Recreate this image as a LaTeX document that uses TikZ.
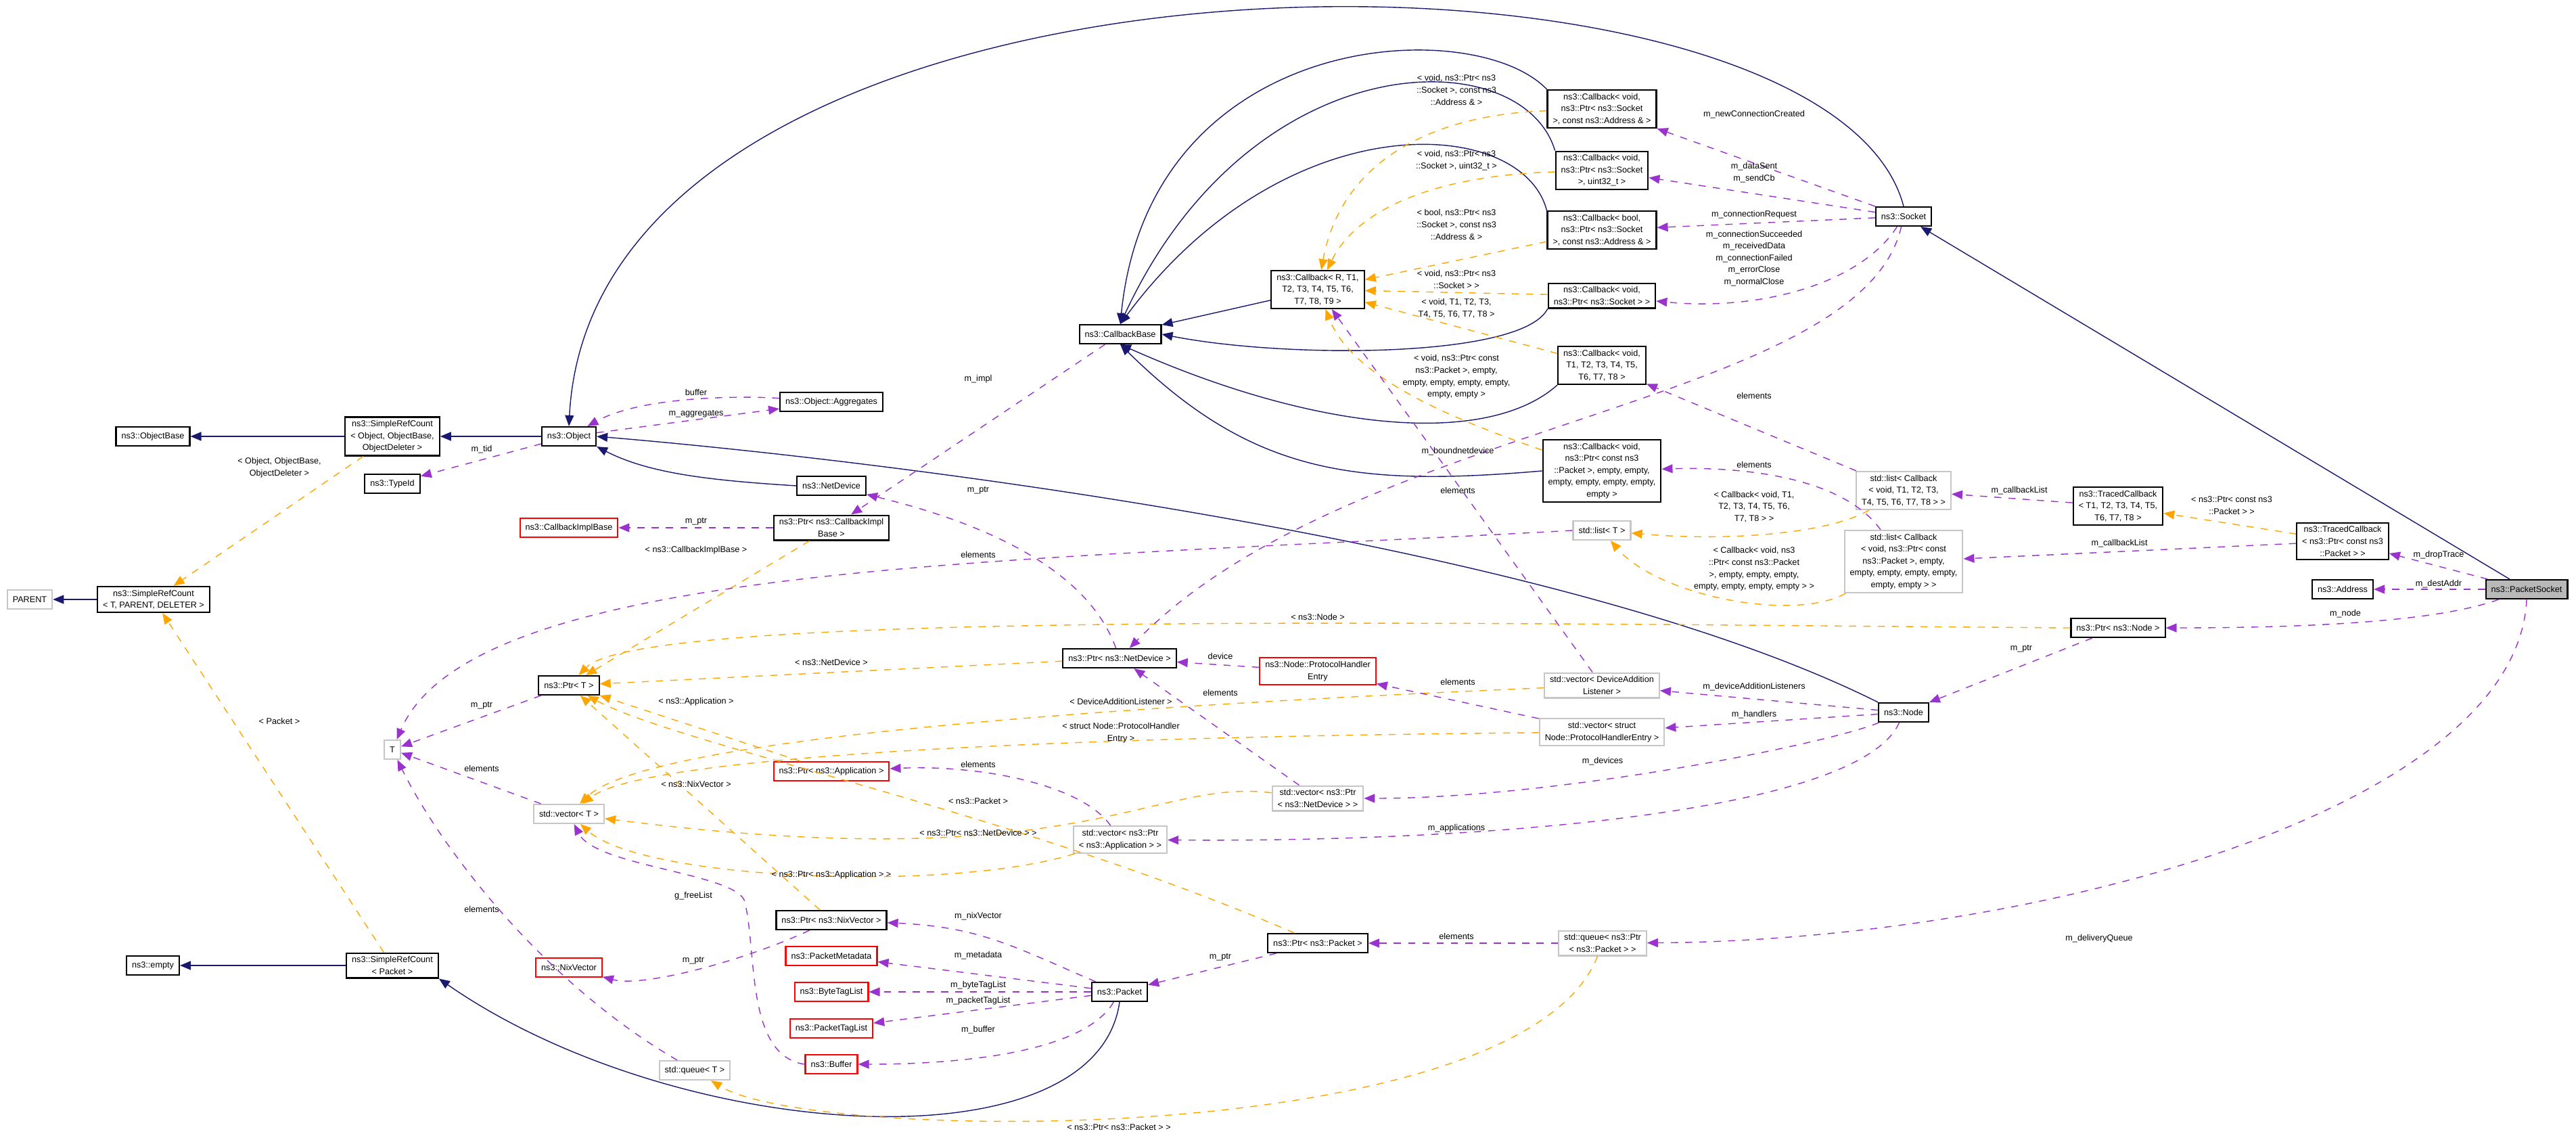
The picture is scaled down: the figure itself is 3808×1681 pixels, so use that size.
\documentclass[tikz,border=0pt]{standalone}
\usepackage{fontspec}
\setmainfont{Liberation Sans}
\usetikzlibrary{arrows.meta}
\definecolor{inhblue}{RGB}{25,25,112}
\definecolor{tplorange}{RGB}{255,165,0}
\definecolor{usepurple}{RGB}{154,50,205}
\begin{document}
\begin{tikzpicture}[x=0.01cm, y=-0.01cm,
cls/.style={draw=black, fill=white, line width=.6pt, font=\fontsize{3.6}{5}\selectfont, inner xsep=.8mm, inner ysep=.5mm, minimum height=.28cm, align=center},
redcls/.style={cls, draw=red},
extcls/.style={cls, draw=gray!45},
curcls/.style={cls, fill=gray!55},
lbl/.style={font=\fontsize{3.6}{5}\selectfont, align=center, inner sep=0},
inh/.style={draw=inhblue, -{Triangle[length=1.6mm,width=1.3mm]}},
tpl/.style={draw=tplorange, dashed, -{Triangle[length=1.6mm,width=1.3mm]}},
use/.style={draw=usepurple, dashed, -{Triangle[length=1.6mm,width=1.3mm]}}]
\useasboundingbox (0,0) rectangle (3808,1681);
% classes
\node[curcls] (psock) at (3735,871) {ns3::PacketSocket};
\node[cls] (addr) at (3463,871) {ns3::Address};
\node[cls] (tcpkt) at (3463,800) {ns3::TracedCallback\\< ns3::Ptr< const ns3\\::Packet > >};
\node[cls] (tcgen) at (3131,748) {ns3::TracedCallback\\< T1, T2, T3, T4, T5,\\T6, T7, T8 >};
\node[extcls] (lstcb) at (2814,725) {std::list< Callback\\< void, T1, T2, T3,\\T4, T5, T6, T7, T8 > >};
\node[extcls] (lstpkt) at (2814,830) {std::list< Callback\\< void, ns3::Ptr< const\\ns3::Packet >, empty,\\empty, empty, empty, empty,\\empty, empty > >};
\node[extcls] (lstT) at (2368,784) {std::list< T >};
\node[cls] (ptrnode) at (3131,928) {ns3::Ptr< ns3::Node >};
\node[cls] (node) at (2814,1053) {ns3::Node};
\node[cls] (socket) at (2814,320) {ns3::Socket};
\node[extcls] (vecdal) at (2368,1013) {std::vector< DeviceAddition\\Listener >};
\node[extcls] (vecphe) at (2368,1082) {std::vector< struct\\Node::ProtocolHandlerEntry >};
\node[redcls] (phe) at (1948,992) {ns3::Node::ProtocolHandler\\Entry};
\node[cls] (ptrdev) at (1655,973) {ns3::Ptr< ns3::NetDevice >};
\node[extcls] (vecdev) at (1948,1180) {std::vector< ns3::Ptr\\< ns3::NetDevice > >};
\node[extcls] (vecapp) at (1656,1241) {std::vector< ns3::Ptr\\< ns3::Application > >};
\node[redcls] (ptrapp) at (1229,1140) {ns3::Ptr< ns3::Application >};
\node[cls] (ptrT) at (841,1013) {ns3::Ptr< T >};
\node[extcls] (T) at (580,1108) {T};
\node[extcls] (vecT) at (841,1203) {std::vector< T >};
\node[cls] (ptrnix) at (1229,1360) {ns3::Ptr< ns3::NixVector >};
\node[redcls] (nix) at (841,1430) {ns3::NixVector};
\node[redcls] (meta) at (1229,1413) {ns3::PacketMetadata};
\node[redcls] (btl) at (1229,1466) {ns3::ByteTagList};
\node[redcls] (ptl) at (1229,1520) {ns3::PacketTagList};
\node[redcls] (buf) at (1229,1573) {ns3::Buffer};
\node[cls] (packet) at (1655,1466) {ns3::Packet};
\node[cls] (ptrpkt) at (1948,1394) {ns3::Ptr< ns3::Packet >};
\node[extcls] (quepkt) at (2369,1394) {std::queue< ns3::Ptr\\< ns3::Packet > >};
\node[extcls] (queT) at (1027,1582) {std::queue< T >};
\node[cls] (srcpkt) at (580,1427) {ns3::SimpleRefCount\\< Packet >};
\node[cls] (empty) at (226,1427) {ns3::empty};
\node[extcls] (parent) at (44,886) {PARENT};
\node[cls] (srcgen) at (227,886) {ns3::SimpleRefCount\\< T, PARENT, DELETER >};
\node[cls] (objbase) at (226,645) {ns3::ObjectBase};
\node[cls] (srcobj) at (580,645) {ns3::SimpleRefCount\\< Object, ObjectBase,\\ObjectDeleter >};
\node[cls] (typeid) at (580,715) {ns3::TypeId};
\node[cls] (object) at (841,645) {ns3::Object};
\node[cls] (aggr) at (1229,594) {ns3::Object::Aggregates};
\node[cls] (netdev) at (1229,718) {ns3::NetDevice};
\node[cls] (ptrcbi) at (1229,780) {ns3::Ptr< ns3::CallbackImpl\\Base >};
\node[redcls] (cbi) at (841,780) {ns3::CallbackImplBase};
\node[cls] (cbbase) at (1656,494) {ns3::CallbackBase};
\node[cls] (cbgen) at (1948,428) {ns3::Callback< R, T1,\\T2, T3, T4, T5, T6,\\T7, T8, T9 >};
\node[cls] (cbaddr) at (2368,161) {ns3::Callback< void,\\ns3::Ptr< ns3::Socket\\>, const ns3::Address \& >};
\node[cls] (cbuint) at (2368,252) {ns3::Callback< void,\\ns3::Ptr< ns3::Socket\\>, uint32\_t >};
\node[cls] (cbbool) at (2368,340) {ns3::Callback< bool,\\ns3::Ptr< ns3::Socket\\>, const ns3::Address \& >};
\node[cls] (cbsock) at (2368,437) {ns3::Callback< void,\\ns3::Ptr< ns3::Socket > >};
\node[cls] (cbT) at (2368,540) {ns3::Callback< void,\\T1, T2, T3, T4, T5,\\T6, T7, T8 >};
\node[cls] (cbpkt) at (2368,696) {ns3::Callback< void,\\ns3::Ptr< const ns3\\::Packet >, empty, empty,\\empty, empty, empty, empty,\\empty >};
% inheritance
\draw[inh] (psock) -- (socket);
\draw[inh] (socket.north) .. controls (2700,-130) and (880,-130) .. (object.north);
\draw[inh] (node.north west) .. controls (2300,800) and (1300,680) .. (object.east);
\draw[inh] (netdev.west) .. controls (1050,710) and (960,700) .. (object.south east);
\draw[inh] (object) -- (srcobj);
\draw[inh] (srcobj) -- (objbase);
\draw[inh] (srcgen) -- (parent);
\draw[inh] (srcpkt) -- (empty);
\draw[inh] (packet.south) .. controls (1620,1730) and (1000,1690) .. (srcpkt.south east);
\draw[inh] (cbgen) -- (cbbase);
\draw[inh] (cbaddr.north west) .. controls (2180,20) and (1700,40) .. (cbbase.north);
\draw[inh] (cbuint.north west) .. controls (2250,60) and (1850,60) .. (cbbase.north);
\draw[inh] (cbbool.north west) .. controls (2250,170) and (1900,150) .. (cbbase.north);
\draw[inh] (cbsock.south west) .. controls (2250,530) and (1900,530) .. (cbbase.east);
\draw[inh] (cbT.south west) .. controls (2200,660) and (1950,640) .. (cbbase.south);
\draw[inh] (cbpkt.west) .. controls (2000,720) and (1850,700) .. (cbbase.south);
% templates
\draw[tpl] (srcobj) -- (srcgen);
\draw[tpl] (srcpkt) -- (srcgen);
\draw[tpl] (cbaddr) .. controls (2100,170) and (1980,250) .. (cbgen);
\draw[tpl] (cbuint) .. controls (2100,260) and (2000,320) .. (cbgen);
\draw[tpl] (cbbool) -- (cbgen);
\draw[tpl] (cbsock) -- (cbgen);
\draw[tpl] (cbT) -- (cbgen);
\draw[tpl] (cbpkt) .. controls (2150,620) and (2000,560) .. (cbgen);
\draw[tpl] (ptrcbi) -- (ptrT);
\draw[tpl] (ptrdev) -- (ptrT);
\draw[tpl] (ptrnode.west) .. controls (2200,922) and (950,900) .. (ptrT);
\draw[tpl] (ptrapp) -- (ptrT);
\draw[tpl] (ptrnix) -- (ptrT);
\draw[tpl] (ptrpkt) .. controls (1500,1200) and (1000,1100) .. (ptrT);
\draw[tpl] (vecdal) .. controls (1500,1050) and (950,1100) .. (vecT);
\draw[tpl] (vecphe) .. controls (1500,1090) and (950,1120) .. (vecT);
\draw[tpl] (vecdev) .. controls (1700,1150) and (1600,1300) .. (vecT);
\draw[tpl] (vecapp) .. controls (1400,1320) and (950,1300) .. (vecT);
\draw[tpl] (lstcb) .. controls (2700,790) and (2550,800) .. (lstT);
\draw[tpl] (lstpkt) .. controls (2650,920) and (2450,880) .. (lstT);
\draw[tpl] (tcpkt) -- (tcgen);
\draw[tpl] (quepkt) .. controls (2250,1700) and (1200,1690) .. (queT);
% usage
\draw[use] (aggr) .. controls (1100,585) and (950,585) .. (object);
\draw[use] (object) -- (aggr);
\draw[use] (object) -- (typeid);
\draw[use] (ptrT) -- (T);
\draw[use] (vecT) -- (T);
\draw[use] (queT) .. controls (800,1450) and (650,1250) .. (T);
\draw[use] (cbbase) -- (ptrcbi);
\draw[use] (ptrcbi) -- (cbi);
\draw[use] (ptrdev) .. controls (1600,820) and (1400,760) .. (netdev);
\draw[use] (lstT.west) .. controls (1500,830) and (700,830) .. (T);
\draw[use] (socket) .. controls (2750,600) and (2000,620) .. (ptrdev);
\draw[use] (socket) -- (cbaddr);
\draw[use] (socket) -- (cbuint);
\draw[use] (socket) -- (cbbool);
\draw[use] (socket) .. controls (2750,420) and (2600,460) .. (cbsock);
\draw[use] (lstcb) -- (cbT);
\draw[use] (lstpkt) .. controls (2720,700) and (2560,690) .. (cbpkt);
\draw[use] (vecdal) -- (cbgen);
\draw[use] (phe) -- (ptrdev);
\draw[use] (vecphe) -- (phe);
\draw[use] (vecdev) -- (ptrdev);
\draw[use] (vecapp) .. controls (1600,1160) and (1450,1130) .. (ptrapp);
\draw[use] (tcgen) -- (lstcb);
\draw[use] (tcpkt) -- (lstpkt);
\draw[use] (psock) -- (tcpkt);
\draw[use] (psock) -- (addr);
\draw[use] (psock) .. controls (3600,920) and (3400,928) .. (ptrnode);
\draw[use] (psock.south) .. controls (3720,1200) and (3000,1390) .. (quepkt);
\draw[use] (ptrnode) -- (node);
\draw[use] (node) -- (vecdal);
\draw[use] (node) -- (vecphe);
\draw[use] (node) .. controls (2700,1100) and (2300,1180) .. (vecdev);
\draw[use] (node) .. controls (2750,1200) and (2200,1245) .. (vecapp);
\draw[use] (packet) .. controls (1500,1400) and (1450,1370) .. (ptrnix);
\draw[use] (packet) -- (meta);
\draw[use] (packet) -- (btl);
\draw[use] (packet) -- (ptl);
\draw[use] (packet) .. controls (1600,1560) and (1400,1573) .. (buf);
\draw[use] (ptrnix) .. controls (1100,1420) and (950,1460) .. (nix);
\draw[use] (buf.west) .. controls (1100,1560) and (1120,1400) .. (1100,1330) .. controls (1080,1290) and (880,1280) .. (vecT);
\draw[use] (ptrpkt) -- (packet);
\draw[use] (quepkt) -- (ptrpkt);
% labels
\node[lbl] (lObj) at (413,691) {< Object, ObjectBase,\\ObjectDeleter >};
\node[lbl] (lPkt) at (413,1066) {< Packet >};
\node[lbl] (lTid) at (712,664) {m\_tid};
\node[lbl] (lPtrT) at (712,1043) {m\_ptr};
\node[lbl] (lVecEl) at (712,1136) {elements};
\node[lbl] (lQueEl) at (712,1344) {elements};
\node[lbl] (lBuffer) at (1029,580) {buffer};
\node[lbl] (lAggr) at (1029,612) {m\_aggregates};
\node[lbl] (lImpl) at (1446,560) {m\_impl};
\node[lbl] (lDevPtr) at (1446,725) {m\_ptr};
\node[lbl] (lCbiPtr) at (1029,771) {m\_ptr};
\node[lbl] (lCbi) at (1029,813) {< ns3::CallbackImplBase >};
\node[lbl] (lLstEl) at (1446,820) {elements};
\node[lbl] (lNode) at (1948,912) {< ns3::Node >};
\node[lbl] (lDev) at (1229,979) {< ns3::NetDevice >};
\node[lbl] (lDevice) at (1804,970) {device};
\node[lbl] (lVecDevEl) at (1804,1024) {elements};
\node[lbl] (lApp) at (1029,1037) {< ns3::Application >};
\node[lbl] (lDal) at (1657,1037) {< DeviceAdditionListener >};
\node[lbl] (lPhe) at (1657,1083) {< struct Node::ProtocolHandler\\Entry >};
\node[lbl] (lVecAppEl) at (1446,1130) {elements};
\node[lbl] (lNix) at (1029,1159) {< ns3::NixVector >};
\node[lbl] (lPacket) at (1446,1184) {< ns3::Packet >};
\node[lbl] (lPtrDev) at (1446,1231) {< ns3::Ptr< ns3::NetDevice > >};
\node[lbl] (lPtrApp) at (1229,1293) {< ns3::Ptr< ns3::Application > >};
\node[lbl] (lFree) at (1025,1324) {g\_freeList};
\node[lbl] (lNixPtr) at (1025,1420) {m\_ptr};
\node[lbl] (lNixVec) at (1446,1354) {m\_nixVector};
\node[lbl] (lMeta) at (1446,1412) {m\_metadata};
\node[lbl] (lBtl) at (1446,1456) {m\_byteTagList};
\node[lbl] (lPtl) at (1446,1479) {m\_packetTagList};
\node[lbl] (lBuf) at (1446,1522) {m\_buffer};
\node[lbl] (lPktPtr) at (1804,1415) {m\_ptr};
\node[lbl] (lQueEl2) at (2153,1384) {elements};
\node[lbl] (lQuePkt) at (1654,1666) {< ns3::Ptr< ns3::Packet > >};
\node[lbl] (lApps) at (2153,1224) {m\_applications};
\node[lbl] (lDevs) at (2369,1125) {m\_devices};
\node[lbl] (lHandlers) at (2593,1056) {m\_handlers};
\node[lbl] (lDals) at (2593,1015) {m\_deviceAdditionListeners};
\node[lbl] (lPheEl) at (2155,1008) {elements};
\node[lbl] (lDalEl) at (2155,725) {elements};
\node[lbl] (lNodePtr) at (2988,959) {m\_ptr};
\node[lbl] (lNodeM) at (3467,907) {m\_node};
\node[lbl] (lDest) at (3605,863) {m\_destAddr};
\node[lbl] (lDrop) at (3605,820) {m\_dropTrace};
\node[lbl] (lDeliv) at (3103,1387) {m\_deliveryQueue};
\node[lbl] (lCbList1) at (2985,725) {m\_callbackList};
\node[lbl] (lCbList2) at (3133,803) {m\_callbackList};
\node[lbl] (lTcPkt) at (3299,747) {< ns3::Ptr< const ns3\\::Packet > >};
\node[lbl] (lLstCb) at (2593,749) {< Callback< void, T1,\\T2, T3, T4, T5, T6,\\T7, T8 > >};
\node[lbl] (lLstPkt) at (2593,841) {< Callback< void, ns3\\::Ptr< const ns3::Packet\\>, empty, empty, empty,\\empty, empty, empty, empty > >};
\node[lbl] (lCbEl1) at (2593,585) {elements};
\node[lbl] (lCbEl2) at (2593,687) {elements};
\node[lbl] (lBound) at (2155,667) {m\_boundnetdevice};
\node[lbl] (lNew) at (2593,169) {m\_newConnectionCreated};
\node[lbl] (lSent) at (2593,255) {m\_dataSent\\m\_sendCb};
\node[lbl] (lReq) at (2593,317) {m\_connectionRequest};
\node[lbl] (lSucc) at (2593,382) {m\_connectionSucceeded\\m\_receivedData\\m\_connectionFailed\\m\_errorClose\\m\_normalClose};
\node[lbl] (lTAddr) at (2153,133) {< void, ns3::Ptr< ns3\\::Socket >, const ns3\\::Address \& >};
\node[lbl] (lTUint) at (2153,237) {< void, ns3::Ptr< ns3\\::Socket >, uint32\_t >};
\node[lbl] (lTBool) at (2153,332) {< bool, ns3::Ptr< ns3\\::Socket >, const ns3\\::Address \& >};
\node[lbl] (lTSock) at (2153,413) {< void, ns3::Ptr< ns3\\::Socket > >};
\node[lbl] (lTT) at (2153,456) {< void, T1, T2, T3,\\T4, T5, T6, T7, T8 >};
\node[lbl] (lTPkt) at (2153,557) {< void, ns3::Ptr< const\\ns3::Packet >, empty,\\empty, empty, empty, empty,\\empty, empty >};
\end{tikzpicture}
\end{document}
